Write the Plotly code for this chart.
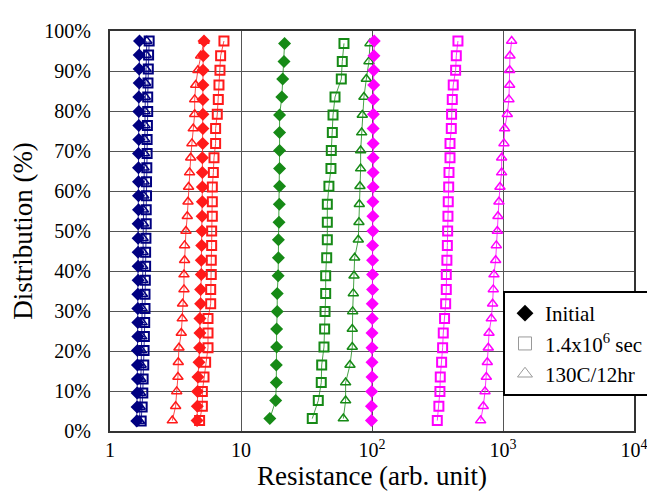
import plotly.graph_objects as go

# cumulative rank (%) for each sample size
rank_28 = [2.5, 6.0, 9.5, 13.0, 16.5, 20.1, 23.6, 27.1, 30.6, 34.2, 37.7, 41.2, 44.7, 48.2,
           51.8, 55.3, 58.8, 62.3, 65.8, 69.4, 72.9, 76.4, 79.9, 83.5, 87.0, 90.5, 94.0, 97.5]
rank_27 = [2.6, 6.2, 9.9, 13.5, 17.2, 20.8, 24.5, 28.1, 31.8, 35.4, 39.1, 42.7, 46.4, 50.0,
           53.7, 57.3, 61.0, 64.6, 68.3, 71.9, 75.6, 79.2, 82.9, 86.5, 90.2, 93.8, 97.5]
rank_22 = [3.1, 7.6, 12.1, 16.5, 21.0, 25.5, 29.9, 34.4, 38.8, 43.3, 47.8,
           52.2, 56.7, 61.2, 65.6, 70.1, 74.6, 79.0, 83.5, 88.0, 92.4, 96.9]

# blue group (n=28)
blue_init = [1.60, 1.61, 1.61, 1.62, 1.62, 1.62, 1.63, 1.63, 1.63, 1.63, 1.64, 1.64, 1.64, 1.64,
             1.64, 1.65, 1.65, 1.65, 1.65, 1.65, 1.66, 1.66, 1.66, 1.66, 1.67, 1.67, 1.67, 1.68]
blue_sec = [1.73, 1.76, 1.78, 1.79, 1.81, 1.82, 1.83, 1.84, 1.85, 1.85, 1.86, 1.87, 1.87, 1.88,
            1.89, 1.89, 1.90, 1.90, 1.91, 1.92, 1.92, 1.93, 1.94, 1.94, 1.95, 1.96, 1.97, 1.99]
blue_bake = [1.68, 1.70, 1.71, 1.72, 1.73, 1.74, 1.75, 1.76, 1.76, 1.77, 1.78, 1.78, 1.79, 1.79,
             1.80, 1.80, 1.81, 1.82, 1.82, 1.83, 1.84, 1.85, 1.85, 1.86, 1.87, 1.88, 1.89, 1.91]

# red group (n=27)
red_init = [4.62, 4.64, 4.66, 4.69, 4.78, 4.83, 4.86, 4.86, 4.92, 4.92, 4.98, 4.98, 5.01, 5.04,
            5.05, 5.07, 5.07, 5.07, 5.07, 5.10, 5.12, 5.12, 5.12, 5.12, 5.13, 5.15, 5.22]
red_sec = [4.83, 5.07, 5.07, 5.22, 5.37, 5.60, 5.60, 5.60, 5.87, 5.87, 5.93, 5.93, 5.97, 5.97,
           6.04, 6.04, 6.04, 6.15, 6.22, 6.40, 6.40, 6.59, 6.71, 6.79, 6.91, 6.99, 7.41]
red_bake = [2.99, 3.17, 3.23, 3.30, 3.32, 3.36, 3.50, 3.56, 3.58, 3.67, 3.67, 3.71, 3.71, 3.80,
            3.89, 3.94, 3.98, 4.05, 4.13, 4.22, 4.32, 4.43, 4.43, 4.51, 4.69, 4.92, 5.22]

# green group (n=22)
green_init = [16.6, 18.4, 18.6, 18.6, 18.7, 18.7, 18.9, 18.9, 19.2, 19.3, 19.3,
              19.5, 19.6, 19.7, 19.7, 19.7, 19.7, 19.7, 20.5, 20.8, 21.3, 21.5]
green_sec = [35.0, 38.9, 41.0, 41.3, 43.0, 43.5, 43.8, 44.3, 44.3, 45.1, 45.6,
             45.6, 45.6, 46.9, 48.6, 48.9, 49.8, 50.4, 52.2, 58.3, 59.3, 61.1]
green_bake = [60.4, 62.9, 62.9, 67.9, 70.7, 70.7, 71.2, 72.0, 72.9, 73.7, 78.6,
              79.5, 80.0, 80.9, 81.9, 81.9, 83.4, 84.3, 86.8, 90.5, 94.8, 96.5]

# magenta group (n=27)
mag_init = [99, 99, 99.5, 100, 100, 100, 100, 100.5, 100.5, 101, 101, 101, 101, 101.5,
            101.5, 101.5, 102, 102, 102, 102, 102, 102.5, 102.5, 103, 103, 103.5, 104]
mag_sec = [315, 324, 330, 332, 340, 346, 350, 358, 365, 369, 369, 373, 376, 378,
           380, 382, 385, 387, 394, 394, 403, 405, 410, 417, 435, 440, 453]
mag_bake = [675, 707, 729, 746, 759, 772, 782, 814, 833, 843, 853, 879, 889, 905,
            915, 931, 948, 976, 976, 1017, 1029, 1078, 1110, 1124, 1124, 1130, 1164]

groups = [
    ("#000080", rank_28, blue_init, blue_sec, blue_bake),
    ("#ff1a1a", rank_27, red_init, red_sec, red_bake),
    ("#168a16", rank_22, green_init, green_sec, green_bake),
    ("#ff00ff", rank_27, mag_init, mag_sec, mag_bake),
]

fig = go.Figure()

for color, rank, init, sec, bake in groups:
    fig.add_trace(go.Scatter(
        x=sec, y=rank, mode="lines+markers", showlegend=False,
        line=dict(color=color, width=0.8),
        marker=dict(symbol="square-open", size=9, color=color, line=dict(width=2)),
    ))
    fig.add_trace(go.Scatter(
        x=bake, y=rank, mode="lines+markers", showlegend=False,
        line=dict(color=color, width=0.8),
        marker=dict(symbol="triangle-up-open", size=9, color=color, line=dict(width=1.5)),
    ))
    fig.add_trace(go.Scatter(
        x=init, y=rank, mode="lines+markers", showlegend=False,
        line=dict(color=color, width=0.8),
        marker=dict(symbol="diamond", size=10, color=color),
    ))

# legend-only entries
fig.add_trace(go.Scatter(x=[None], y=[None], mode="markers", name="Initial",
                         marker=dict(symbol="diamond", size=13, color="black")))
fig.add_trace(go.Scatter(x=[None], y=[None], mode="markers", name="1.4x10<sup>6</sup> sec",
                         marker=dict(symbol="square-open", size=13, color="#999999",
                                     line=dict(width=1))))
fig.add_trace(go.Scatter(x=[None], y=[None], mode="markers", name="130C/12hr",
                         marker=dict(symbol="triangle-up-open", size=13, color="#999999",
                                     line=dict(width=1))))

font = "Liberation Serif, Times New Roman, serif"

fig.update_layout(
    width=655, height=493,
    margin=dict(l=102, r=29, t=17, b=70),
    paper_bgcolor="white", plot_bgcolor="white",
    font=dict(family=font, size=17, color="black"),
    legend=dict(x=0.75, y=0.35, xanchor="left", yanchor="top",
                bgcolor="white", bordercolor="black", borderwidth=2,
                font=dict(family=font, size=21, color="black"),
                tracegroupgap=0, itemwidth=30),
)
fig.update_xaxes(
    type="log", range=[0, 4],
    tickvals=[1, 10, 100, 1000, 10000],
    ticktext=["1", "10", "10<sup>2</sup>", "10<sup>3</sup>", "10<sup>4</sup>"],
    tickfont=dict(size=20),
    showgrid=True, gridcolor="#555555", gridwidth=1,
    showline=True, linecolor="#333333", linewidth=2, mirror=True,
    ticks="", zeroline=False,
    title=dict(text="Resistance (arb. unit)", font=dict(size=27), standoff=6),
)
fig.update_yaxes(
    range=[0, 100], dtick=10, ticksuffix="%",
    tickfont=dict(size=20),
    showgrid=True, gridcolor="#555555", gridwidth=1,
    showline=True, linecolor="#333333", linewidth=2, mirror=True,
    ticks="", zeroline=False, ticklabelstandoff=13,
    title=dict(text="Distribution (%)", font=dict(size=27), standoff=4),
)

fig.write_html("out.html")
